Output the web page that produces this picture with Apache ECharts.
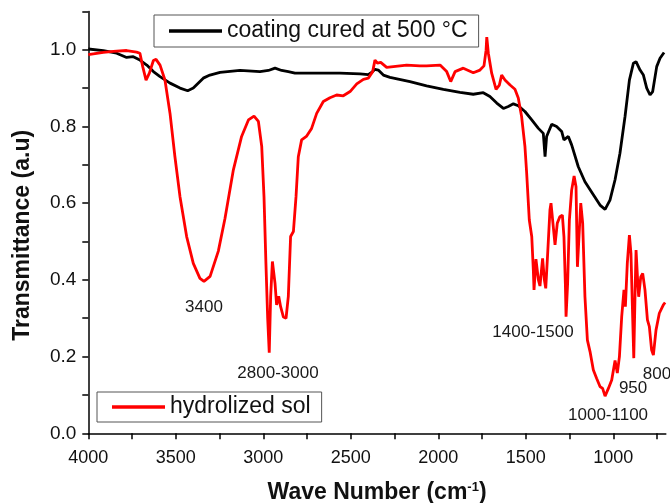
<!DOCTYPE html>
<html><head><meta charset="utf-8">
<script src="https://cdn.jsdelivr.net/npm/echarts@6/dist/echarts.min.js"></script>
<style>html,body{margin:0;padding:0;background:#fff}#c{width:670px;height:503px}</style>
</head><body><div id="c"></div>
<script>
const xTickLabels = [4000, 3500, 3000, 2500, 2000, 1500, 1000];
const xTickMarks = [4000, 3750, 3500, 3250, 3000, 2750, 2500, 2250, 2000, 1750, 1500, 1250, 1000, 750];
const yTickLabels = [0, 0.2, 0.4, 0.6, 0.8, 1.0];
const yTickMarks = [0, 0.1, 0.2, 0.3, 0.4, 0.5, 0.6, 0.7, 0.8, 0.9, 1.0, 1.1];

const seriesNames = ['coating cured at 500 °C', 'hydrolized sol'];

const blackWave = [4000,3914,3838,3781,3743,3705,3666,3628,3590,3533,3476,3432,3400,3343,3305,3247,3133,3019,2971,2933,2895,2857,2819,2695,2562,2447,2400,2375,2362,2343,2314,2276,2162,2067,1971,1876,1800,1743,1705,1666,1628,1600,1571,1543,1505,1466,1428,1400,1390,1381,1352,1324,1295,1282,1257,1238,1200,1162,1114,1076,1047,1019,990,962,933,908,885,870,847,828,809,790,775,752,733,710];
const blackT = [1.002,0.998,0.991,0.980,0.982,0.973,0.960,0.943,0.930,0.913,0.900,0.893,0.900,0.926,0.934,0.941,0.946,0.943,0.946,0.952,0.946,0.943,0.939,0.939,0.939,0.937,0.935,0.943,0.949,0.947,0.934,0.928,0.917,0.906,0.897,0.889,0.884,0.888,0.878,0.861,0.847,0.852,0.859,0.854,0.839,0.817,0.795,0.782,0.721,0.774,0.806,0.800,0.787,0.765,0.774,0.752,0.695,0.656,0.622,0.595,0.584,0.608,0.661,0.730,0.826,0.921,0.965,0.969,0.947,0.934,0.900,0.882,0.891,0.956,0.978,0.993];

const redWave = [4000,3914,3857,3781,3724,3705,3689,3670,3651,3628,3613,3590,3562,3533,3505,3476,3438,3400,3362,3339,3304,3257,3219,3171,3124,3085,3053,3028,3009,2996,2985,2975,2966,2958,2948,2933,2924,2912,2901,2885,2870,2857,2844,2828,2813,2800,2781,2752,2724,2695,2657,2619,2581,2543,2504,2466,2428,2400,2375,2362,2348,2329,2295,2257,2181,2105,2067,1990,1952,1929,1904,1857,1800,1762,1739,1727,1723,1714,1695,1670,1651,1638,1619,1590,1562,1543,1524,1505,1495,1480,1466,1457,1453,1442,1428,1419,1404,1394,1386,1375,1362,1356,1343,1333,1320,1305,1291,1282,1274,1270,1261,1251,1238,1224,1213,1205,1196,1186,1175,1162,1148,1133,1114,1095,1076,1061,1047,1028,1009,990,977,965,952,939,931,920,908,899,889,883,876,870,861,855,843,832,819,805,794,781,771,756,737,714,704];
const redT = [0.987,0.993,0.996,0.998,0.994,0.991,0.956,0.921,0.939,0.972,0.975,0.960,0.921,0.834,0.721,0.617,0.513,0.443,0.404,0.396,0.409,0.475,0.560,0.687,0.774,0.817,0.827,0.813,0.748,0.617,0.443,0.300,0.210,0.357,0.448,0.391,0.335,0.357,0.330,0.303,0.300,0.357,0.513,0.526,0.617,0.721,0.765,0.775,0.795,0.834,0.865,0.875,0.882,0.880,0.891,0.911,0.923,0.926,0.943,0.973,0.965,0.967,0.954,0.956,0.960,0.958,0.958,0.960,0.943,0.917,0.943,0.952,0.940,0.947,0.958,0.999,1.033,0.991,0.939,0.897,0.908,0.934,0.921,0.908,0.897,0.874,0.826,0.748,0.678,0.556,0.513,0.426,0.374,0.454,0.400,0.384,0.456,0.400,0.378,0.469,0.582,0.600,0.539,0.491,0.548,0.565,0.569,0.513,0.391,0.304,0.391,0.556,0.634,0.671,0.643,0.434,0.513,0.600,0.548,0.356,0.243,0.213,0.165,0.143,0.122,0.117,0.097,0.117,0.139,0.190,0.157,0.200,0.304,0.374,0.330,0.443,0.517,0.469,0.296,0.196,0.356,0.478,0.400,0.356,0.408,0.417,0.374,0.296,0.278,0.217,0.204,0.269,0.313,0.335,0.341];

const annotText = ['3400', '2800-3000', '1400-1500', '1000-1100', '950', '800'];
const annotWave = [3339, 2916, 1459, 1030, 887, 750];
const annotT = [0.328, 0.156, 0.262, 0.046, 0.116, 0.155];

const FONT = '"Liberation Sans", Arial, sans-serif';
const zip = (a, b) => a.map((v, i) => [v, b[i]]);

const chart = echarts.init(document.getElementById('c'), null, {renderer: 'canvas'});
chart.setOption({
  animation: false,
  backgroundColor: '#fff',
  grid: {left: 88.3, right: 4.2, top: 11.4, bottom: 69.7, containLabel: false, outerBoundsMode: 'none'},
  legend: [
    {data: [seriesNames[0]], left: 154, top: 15, icon: 'rect', itemWidth: 53, itemHeight: 3.5,
     selectedMode: false, borderColor: '#555', borderWidth: 1, borderRadius: 0, padding: [4, 11, 4, 15],
     backgroundColor: '#fff', textStyle: {fontSize: 23, fontFamily: FONT, color: '#111', lineHeight: 24}},
    {data: [seriesNames[1]], left: 97, top: 392, icon: 'rect', itemWidth: 53, itemHeight: 3.5,
     selectedMode: false, borderColor: '#555', borderWidth: 1, borderRadius: 0, padding: [3, 11, 3, 15],
     backgroundColor: '#fff', textStyle: {fontSize: 23, fontFamily: FONT, color: '#111', lineHeight: 24}}
  ],
  xAxis: {
    type: 'value', min: 700, max: 4000, inverse: true,
    name: '{a|Wave Number (cm}{s|-1}{a|)}', nameLocation: 'middle', nameGap: 48, nameMoveOverlap: false,
    nameTextStyle: {rich: {
      a: {fontSize: 23, fontWeight: 'bold', fontFamily: FONT, color: '#111'},
      s: {fontSize: 13, fontWeight: 'bold', fontFamily: FONT, color: '#111', verticalAlign: 'top', padding: [0, 0, 10, 0]}
    }},
    axisLine: {lineStyle: {color: '#000', width: 1.5}},
    axisTick: {customValues: xTickMarks, length: 6, lineStyle: {color: '#000', width: 1.5}},
    axisLabel: {customValues: xTickLabels, fontSize: 18, fontFamily: FONT, color: '#111', margin: 16,
      formatter: v => String(v)},
    splitLine: {show: false}
  },
  yAxis: {
    type: 'value', min: 0, max: 1.1,
    name: 'Transmittance (a.u)', nameLocation: 'middle', nameGap: 54, nameMoveOverlap: false,
    nameTextStyle: {fontSize: 23, fontWeight: 'bold', fontFamily: FONT, color: '#111', padding: [0, 26, 0, 0]},
    axisLine: {lineStyle: {color: '#000', width: 1.5}},
    axisTick: {customValues: yTickMarks, length: 6, lineStyle: {color: '#000', width: 1.5}},
    axisLabel: {customValues: yTickLabels, fontSize: 19, fontFamily: FONT, color: '#111', margin: 12,
      formatter: v => v.toFixed(1)},
    splitLine: {show: false}
  },
  series: [
    {name: seriesNames[0], type: 'line', data: zip(blackWave, blackT), showSymbol: false, symbol: 'none',
     color: '#000', lineStyle: {color: '#000', width: 2.8}, z: 2},
    {name: seriesNames[1], type: 'line', data: zip(redWave, redT), showSymbol: false, symbol: 'none',
     color: '#ff0000', lineStyle: {color: '#ff0000', width: 2.8}, z: 3,
     markPoint: {
       symbol: 'circle', symbolSize: 1, itemStyle: {color: 'rgba(0,0,0,0)'},
       label: {show: true, position: 'inside', formatter: p => p.name, fontSize: 17, fontFamily: FONT, color: '#1a1a1a'},
       data: annotText.map((t, i) => ({name: t, coord: [annotWave[i], annotT[i]]}))
     }}
  ]
});
</script></body></html>
